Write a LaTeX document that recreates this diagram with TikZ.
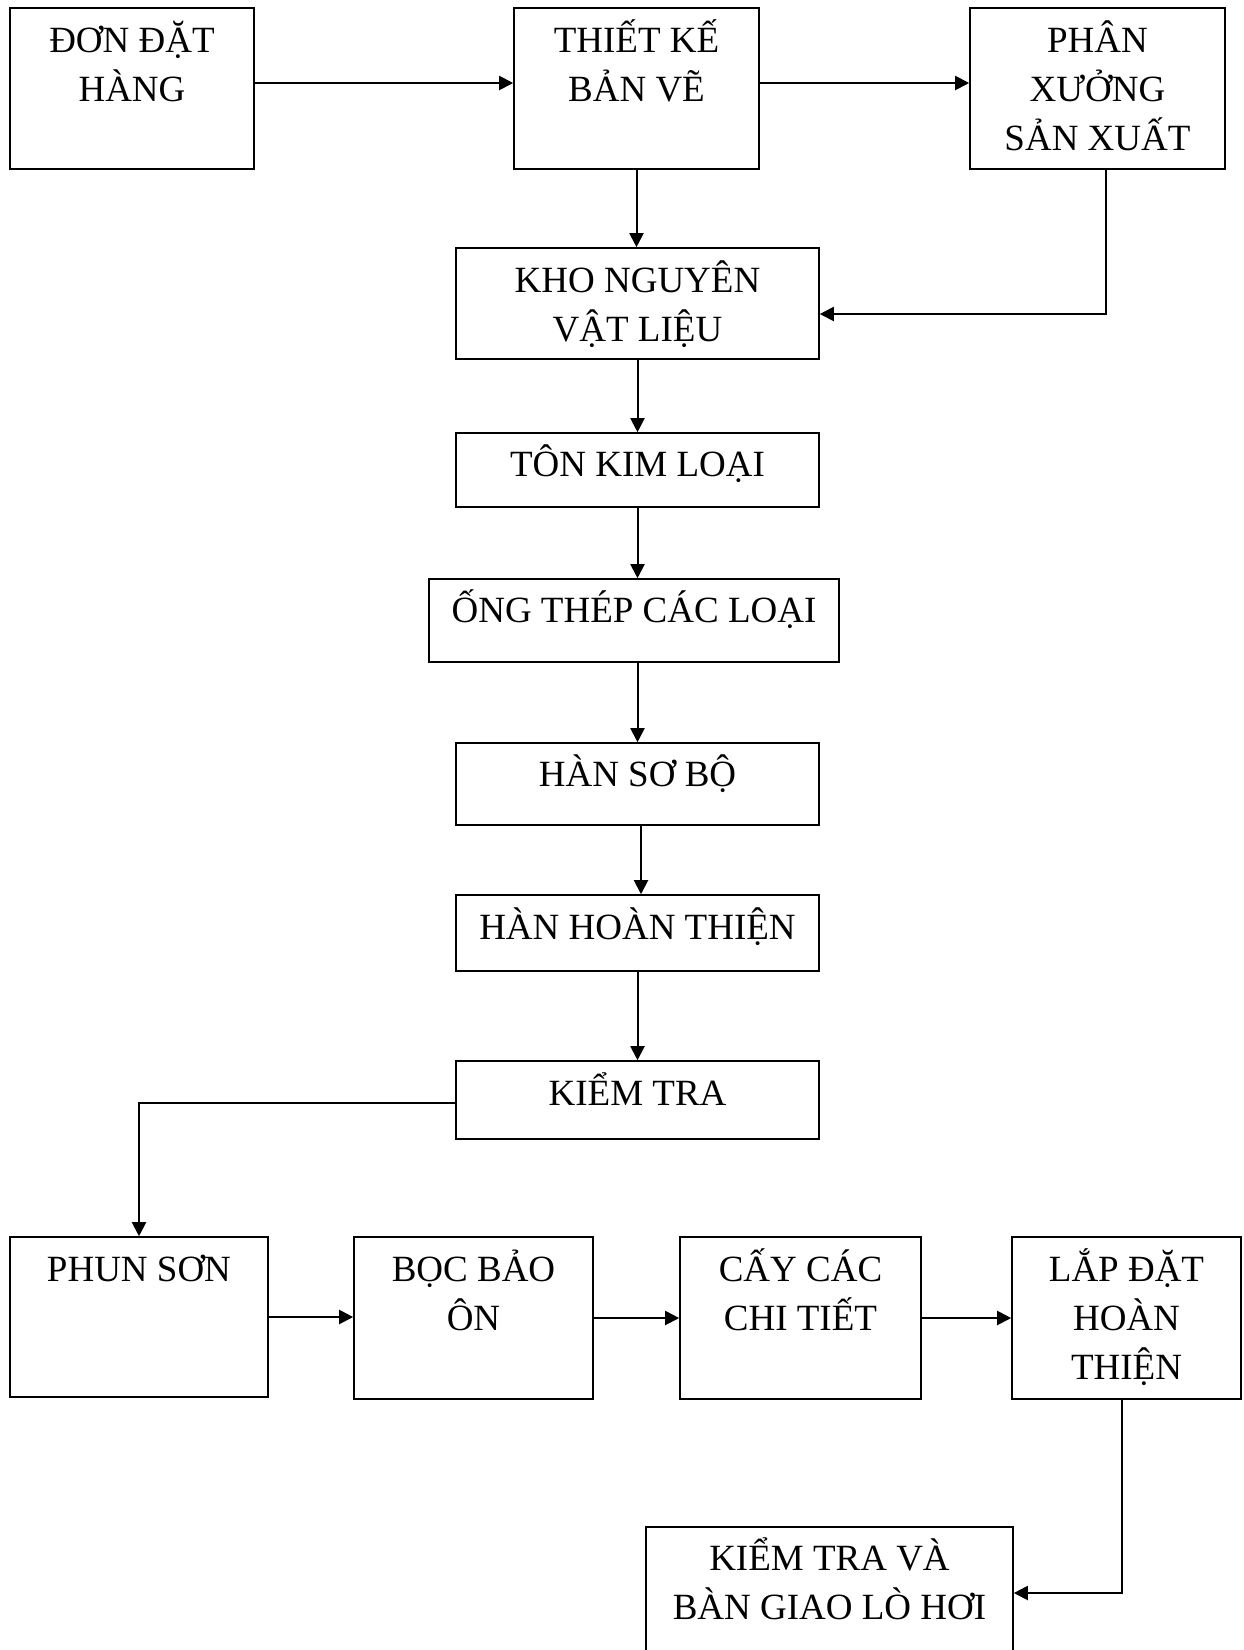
\documentclass[tikz,border=0pt]{standalone}
\usepackage{fontspec}
\setmainfont{Liberation Serif}
\usetikzlibrary{arrows.meta,calc,fit}
\newcommand\mlines[1]{\begin{tabular}[t]{@{}c@{}}#1\end{tabular}}
\begin{document}
\begin{tikzpicture}[x=1pt,y=-1pt,
  box/.style={draw=black, line width=1.6pt, rectangle, inner sep=0pt},
  lbl/.style={anchor=base, inner sep=0pt, font=\fontsize{37}{49}\selectfont},
  arr/.style={line width=2pt, -{Triangle[length=14pt,width=14pt]}}]
\clip (0,0) rectangle (1244,1650);
\fill[white] (0,0) rectangle (1244,1650);
% boxes
\node[box, fit={(10,8) (254,169)}] (A) {};
\node[box, fit={(514,8) (759,169)}] (B) {};
\node[box, fit={(970,8) (1225,169)}] (C) {};
\node[box, fit={(456,248) (819,359)}] (D) {};
\node[box, fit={(456,433) (819,507)}] (E) {};
\node[box, fit={(429,579) (839,662)}] (F) {};
\node[box, fit={(456,743) (819,825)}] (G) {};
\node[box, fit={(456,895) (819,971)}] (H) {};
\node[box, fit={(456,1061) (819,1139)}] (I) {};
\node[box, fit={(10,1237) (268,1397)}] (J) {};
\node[box, fit={(354,1237) (593,1399)}] (K) {};
\node[box, fit={(680,1237) (921,1399)}] (L) {};
\node[box, fit={(1012,1237) (1241,1399)}] (M) {};
\node[box, fit={(646,1527) (1013,1680)}] (N) {};
% texts
\node[lbl] (tA) at ($(A.north)+(0,45)$) {\mlines{ĐƠN ĐẶT\\HÀNG}};
\node[lbl] (tB) at ($(B.north)+(0,45)$) {\mlines{THIẾT KẾ\\BẢN VẼ}};
\node[lbl] (tC) at ($(C.north)+(0,45)$) {\mlines{PHÂN\\XƯỞNG\\SẢN XUẤT}};
\node[lbl] (tD) at ($(D.north)+(0,45)$) {\mlines{KHO NGUYÊN\\VẬT LIỆU}};
\node[lbl] (tE) at ($(E.north)+(0,44)$) {TÔN KIM LOẠI};
\node[lbl] (tF) at ($(F.north)+(0,44)$) {ỐNG THÉP CÁC LOẠI};
\node[lbl] (tG) at ($(G.north)+(0,44)$) {HÀN SƠ BỘ};
\node[lbl] (tH) at ($(H.north)+(0,45)$) {HÀN HOÀN THIỆN};
\node[lbl] (tI) at ($(I.north)+(0,45)$) {KIỂM TRA};
\node[lbl] (tJ) at ($(J.north)+(0,45)$) {PHUN SƠN};
\node[lbl] (tK) at ($(K.north)+(0,45)$) {\mlines{BỌC BẢO\\ÔN}};
\node[lbl] (tL) at ($(L.north)+(0,45)$) {\mlines{CẤY CÁC\\CHI TIẾT}};
\node[lbl] (tM) at ($(M.north)+(0,45)$) {\mlines{LẮP ĐẶT\\HOÀN\\THIỆN}};
\node[lbl] (tN) at ($(N.north)+(0,44)$) {\mlines{KIỂM TRA VÀ\\BÀN GIAO LÒ HƠI}};
% connectors
\draw[arr] ([yshift=5.5pt]A.east) -- ([yshift=5.5pt]B.west);
\draw[arr] ([yshift=5.5pt]B.east) -- ([yshift=5.5pt]C.west);
\draw[arr] (B.south) -- (B.south |- D.north);
\draw[arr] ([xshift=8.5pt]C.south) |- ([yshift=-10.5pt]D.east);
\draw[arr] (D.south) -- (E.north);
\draw[arr] (E.south) -- (E.south |- F.north);
\draw[arr] (G.north |- F.south) -- (G.north);
\draw[arr] ([xshift=3.5pt]G.south) -- ([xshift=3.5pt]H.north);
\draw[arr] (H.south) -- (I.north);
\draw[arr] ([yshift=-3pt]I.west) -| (J.north);
\draw[arr] (J.east) -- (J.east -| K.west);
\draw[arr] (K.east) -- (K.east -| L.west);
\draw[arr] (L.east) -- (L.east -| M.west);
\draw[arr] ([xshift=-4.5pt]M.south) |- ([yshift=10.5pt]N.east);
\end{tikzpicture}
\end{document}
